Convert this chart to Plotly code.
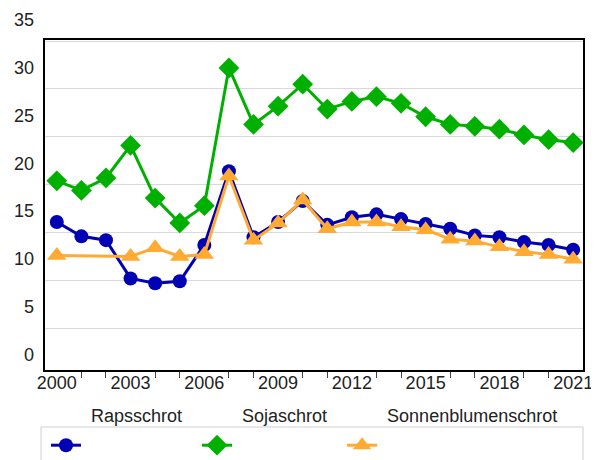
import plotly.graph_objects as go

years = list(range(2000, 2022))
raps = [13.9, 12.4, 12.0, 8.0, 7.5, 7.7, 11.5, 19.2, 12.3, 13.9, 16.1, 13.6,
        14.4, 14.7, 14.2, 13.7, 13.2, 12.5, 12.3, 11.8, 11.5, 11.0]
soja = [18.2, 17.2, 18.5, 21.9, 16.4, 13.8, 15.6, 30.0, 24.1, 26.0, 28.3, 25.7,
        26.5, 27.0, 26.3, 24.9, 24.1, 23.9, 23.6, 23.0, 22.5, 22.2]
sonnen = [10.4, None, None, 10.3, 11.2, 10.3, 10.5, 18.7, 12.0, 13.8, 16.2, 13.2,
          13.9, 13.9, 13.4, 13.1, 12.1, 11.9, 11.3, 10.8, 10.5, 10.0]

series_names = ["Rapsschrot", "Sojaschrot", "Sonnenblumenschrot"]
legend_pad = [2, 2, 0]  # trailing spaces so legend items sit where the reference has them
y_labels = [0, 5, 10, 15, 20, 25, 30, 35]
x_label_years = [2000, 2003, 2006, 2009, 2012, 2015, 2018, 2021]

FONT = "Liberation Sans, Arial, sans-serif"
colors = ["#0000b4", "#00b000", "#ffaa33"]
symbols = ["circle", "diamond", "triangle-up"]
sizes = [14, 16, 17]

Y_RANGE = [-1.57, 32.92]

fig = go.Figure()
for name, pad, vals, col, sym, sz in zip(series_names, legend_pad, [raps, soja, sonnen],
                                         colors, symbols, sizes):
    fig.add_trace(go.Scatter(
        x=years, y=vals, mode="lines+markers", connectgaps=True,
        name="<span style='font-size:18px'>&nbsp;" + name + "&nbsp;" * pad + "</span><br>&nbsp;",
        line=dict(color=col, width=3),
        marker=dict(color=col, symbol=sym, size=sz, line=dict(width=0)),
    ))

# gridlines are offset from the printed labels in the reference
grid_vals = [v - 2.2 for v in y_labels[1:]]

def to_paper(v):
    return (v - Y_RANGE[0]) / (Y_RANGE[1] - Y_RANGE[0])

annotations = [
    dict(x=0, y=to_paper(v), xref="paper", yref="paper", text=str(v), showarrow=False,
         xanchor="right", yanchor="middle", xshift=-9,
         font=dict(family=FONT, size=18, color="#222222"))
    for v in y_labels
]

W, H = 591, 452  # page body adds an 8px margin on top/left

fig.update_layout(
    width=W, height=H,
    margin=dict(l=37, r=16, t=32, b=90, autoexpand=False),
    paper_bgcolor="white", plot_bgcolor="white",
    font=dict(family=FONT, size=18, color="#222222"),
    xaxis=dict(
        range=[1999.52, 2021.4],
        tickvals=x_label_years, ticktext=[str(y) for y in x_label_years],
        ticks="", ticklen=0, ticklabelstandoff=-4,
        minor=dict(tickvals=[y for y in years if y not in x_label_years],
                   ticks="outside", ticklen=6, tickcolor="#444444", tickwidth=1),
        showgrid=False, zeroline=False,
        showline=True, linecolor="black", linewidth=1.5, mirror=True,
        tickfont=dict(family=FONT, size=18, color="#222222"),
    ),
    yaxis=dict(
        range=Y_RANGE,
        tickvals=grid_vals, showticklabels=False, ticks="",
        showgrid=True, gridcolor="#d9d9d9", gridwidth=1,
        zeroline=False,
        showline=True, linecolor="black", linewidth=1.5, mirror=True,
    ),
    showlegend=True,
    legend=dict(
        orientation="h", xref="container", yref="container",
        x=38 / W, y=1 - 380 / H, xanchor="left", yanchor="top",
        bgcolor="rgba(0,0,0,0)", borderwidth=0,
        valign="bottom",
        font=dict(family=FONT, size=26, color="#222222"),
    ),
    annotations=annotations,
    shapes=[dict(type="rect", xref="paper", yref="paper",
                 x0=-4 / 538, x1=1.0, y0=(370 - 427) / 330, y1=(370 - 475) / 330,
                 line=dict(color="#d0d0d0", width=1), fillcolor="rgba(0,0,0,0)",
                 layer="below")],
)

fig.write_html("out.html")
